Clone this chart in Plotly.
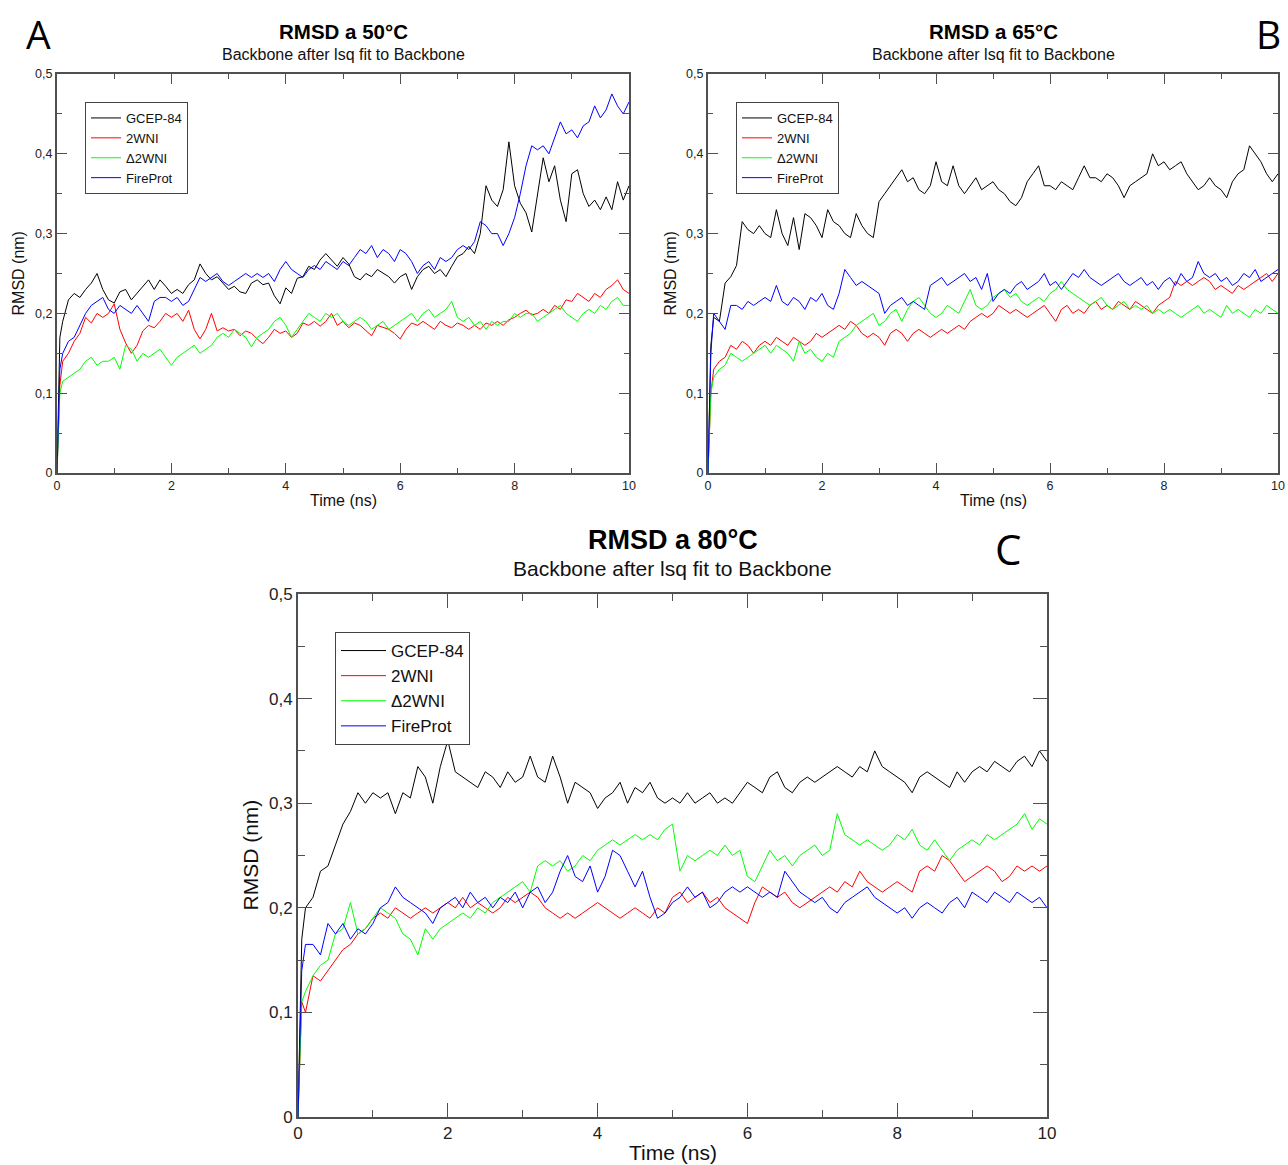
import plotly.graph_objects as go

# time axis (ns): t=0, 0.05 then every 0.1 ns up to 10
time_ns = [0.0, 0.05] + [round(0.1 * i, 1) for i in range(1, 101)]

names = ["GCEP-84", "2WNI", "\u03942WNI", "FireProt"]
colors = ["#000000", "#ff0000", "#00ff00", "#0000ff"]

y_tick_vals = [0, 0.1, 0.2, 0.3, 0.4, 0.5]
y_tick_text = ["0", "0,1", "0,2", "0,3", "0,4", "0,5"]
x_tick_vals = [0, 2, 4, 6, 8, 10]
x_tick_text = ["0", "2", "4", "6", "8", "10"]

# ---- panel A : 50 C ----
a_gcep = [0.0, 0.17,
    0.19, 0.217, 0.225, 0.22, 0.23, 0.238, 0.25, 0.23, 0.217, 0.213,
    0.227, 0.23, 0.217, 0.225, 0.234, 0.242, 0.23, 0.242, 0.234, 0.225,
    0.23, 0.225, 0.236, 0.242, 0.262, 0.25, 0.242, 0.246, 0.238, 0.23,
    0.234, 0.227, 0.225, 0.238, 0.242, 0.236, 0.238, 0.222, 0.212, 0.232,
    0.225, 0.244, 0.246, 0.259, 0.255, 0.267, 0.275, 0.267, 0.259, 0.27,
    0.262, 0.246, 0.242, 0.25, 0.246, 0.255, 0.25, 0.246, 0.238, 0.246,
    0.25, 0.23, 0.246, 0.255, 0.259, 0.25, 0.255, 0.246, 0.259, 0.271,
    0.275, 0.284, 0.275, 0.3, 0.36, 0.342, 0.334, 0.355, 0.415, 0.36,
    0.338, 0.326, 0.302, 0.35, 0.395, 0.365, 0.385, 0.342, 0.315, 0.375,
    0.38, 0.35, 0.334, 0.342, 0.33, 0.346, 0.33, 0.365, 0.342, 0.36]
a_2wni = [0.0, 0.11,
    0.14, 0.15, 0.165, 0.175, 0.195, 0.188, 0.2, 0.195, 0.2, 0.212,
    0.18, 0.163, 0.15, 0.16, 0.178, 0.185, 0.182, 0.19, 0.2, 0.195,
    0.2, 0.19, 0.204, 0.18, 0.168, 0.18, 0.2, 0.178, 0.182, 0.178,
    0.18, 0.172, 0.178, 0.175, 0.168, 0.162, 0.17, 0.18, 0.175, 0.178,
    0.17, 0.175, 0.188, 0.185, 0.19, 0.184, 0.19, 0.2, 0.185, 0.19,
    0.182, 0.188, 0.185, 0.178, 0.172, 0.185, 0.182, 0.18, 0.175, 0.168,
    0.18, 0.188, 0.185, 0.19, 0.185, 0.18, 0.19, 0.185, 0.182, 0.188,
    0.185, 0.18, 0.185, 0.18, 0.188, 0.185, 0.19, 0.185, 0.192, 0.195,
    0.2, 0.204, 0.198, 0.2, 0.205, 0.2, 0.21, 0.205, 0.217, 0.215,
    0.225, 0.22, 0.215, 0.225, 0.22, 0.23, 0.235, 0.242, 0.23, 0.225]
a_d2wni = [0.0, 0.1,
    0.115, 0.12, 0.125, 0.13, 0.14, 0.145, 0.135, 0.14, 0.14, 0.145,
    0.13, 0.16, 0.155, 0.14, 0.15, 0.145, 0.15, 0.155, 0.145, 0.135,
    0.145, 0.15, 0.155, 0.16, 0.15, 0.155, 0.16, 0.17, 0.175, 0.17,
    0.18, 0.175, 0.17, 0.158, 0.17, 0.175, 0.18, 0.19, 0.195, 0.185,
    0.17, 0.18, 0.19, 0.2, 0.195, 0.19, 0.2, 0.195, 0.2, 0.19,
    0.185, 0.19, 0.195, 0.19, 0.18, 0.185, 0.19, 0.18, 0.185, 0.19,
    0.195, 0.2, 0.19, 0.2, 0.205, 0.195, 0.2, 0.205, 0.215, 0.195,
    0.19, 0.195, 0.185, 0.19, 0.18, 0.19, 0.185, 0.19, 0.19, 0.2,
    0.195, 0.2, 0.2, 0.19, 0.195, 0.2, 0.205, 0.21, 0.2, 0.195,
    0.19, 0.2, 0.205, 0.2, 0.21, 0.205, 0.215, 0.22, 0.21, 0.21]
a_fireprot = [0.0, 0.13,
    0.15, 0.165, 0.17, 0.185, 0.2, 0.21, 0.215, 0.22, 0.205, 0.2,
    0.21, 0.205, 0.2, 0.21, 0.2, 0.19, 0.215, 0.22, 0.22, 0.215,
    0.22, 0.21, 0.215, 0.23, 0.245, 0.24, 0.245, 0.25, 0.24, 0.235,
    0.24, 0.245, 0.25, 0.245, 0.25, 0.245, 0.25, 0.24, 0.255, 0.265,
    0.255, 0.25, 0.245, 0.255, 0.26, 0.255, 0.265, 0.26, 0.255, 0.265,
    0.26, 0.27, 0.28, 0.275, 0.285, 0.27, 0.28, 0.275, 0.265, 0.28,
    0.275, 0.265, 0.25, 0.26, 0.265, 0.255, 0.27, 0.265, 0.27, 0.28,
    0.285, 0.28, 0.29, 0.315, 0.31, 0.3, 0.3, 0.285, 0.3, 0.32,
    0.35, 0.385, 0.41, 0.405, 0.41, 0.4, 0.42, 0.44, 0.425, 0.43,
    0.42, 0.435, 0.44, 0.46, 0.445, 0.455, 0.475, 0.46, 0.45, 0.465]

# ---- panel B : 65 C ----
b_gcep = [0.0, 0.16,
    0.195, 0.19, 0.238, 0.246, 0.26, 0.315, 0.305, 0.3, 0.31, 0.3,
    0.295, 0.33, 0.3, 0.285, 0.32, 0.28, 0.325, 0.32, 0.31, 0.295,
    0.33, 0.315, 0.31, 0.3, 0.295, 0.325, 0.31, 0.3, 0.295, 0.34,
    0.35, 0.36, 0.37, 0.38, 0.365, 0.37, 0.355, 0.35, 0.36, 0.39,
    0.365, 0.36, 0.385, 0.36, 0.35, 0.36, 0.37, 0.355, 0.36, 0.365,
    0.355, 0.35, 0.34, 0.335, 0.345, 0.365, 0.375, 0.385, 0.36, 0.36,
    0.355, 0.365, 0.36, 0.355, 0.37, 0.385, 0.37, 0.37, 0.365, 0.375,
    0.37, 0.36, 0.345, 0.36, 0.365, 0.37, 0.375, 0.4, 0.385, 0.39,
    0.38, 0.385, 0.39, 0.375, 0.365, 0.355, 0.36, 0.37, 0.36, 0.355,
    0.345, 0.365, 0.375, 0.38, 0.41, 0.4, 0.39, 0.375, 0.365, 0.375]
b_2wni = [0.0, 0.1,
    0.13, 0.14, 0.145, 0.16, 0.155, 0.165, 0.16, 0.15, 0.16, 0.165,
    0.16, 0.17, 0.165, 0.16, 0.17, 0.165, 0.16, 0.165, 0.175, 0.17,
    0.175, 0.18, 0.185, 0.18, 0.19, 0.185, 0.175, 0.17, 0.175, 0.17,
    0.16, 0.175, 0.18, 0.175, 0.165, 0.175, 0.18, 0.175, 0.17, 0.175,
    0.18, 0.175, 0.18, 0.185, 0.18, 0.19, 0.195, 0.2, 0.195, 0.2,
    0.21, 0.205, 0.2, 0.205, 0.2, 0.195, 0.2, 0.205, 0.21, 0.2,
    0.19, 0.205, 0.21, 0.2, 0.205, 0.2, 0.21, 0.215, 0.205, 0.21,
    0.205, 0.215, 0.21, 0.205, 0.215, 0.21, 0.205, 0.2, 0.21, 0.215,
    0.22, 0.24, 0.235, 0.24, 0.235, 0.24, 0.245, 0.24, 0.23, 0.235,
    0.23, 0.225, 0.235, 0.23, 0.235, 0.24, 0.245, 0.25, 0.24, 0.25]
b_d2wni = [0.0, 0.1,
    0.12, 0.13, 0.135, 0.15, 0.145, 0.14, 0.145, 0.15, 0.155, 0.16,
    0.15, 0.16, 0.155, 0.15, 0.14, 0.165, 0.15, 0.155, 0.145, 0.14,
    0.15, 0.145, 0.165, 0.17, 0.175, 0.185, 0.19, 0.195, 0.2, 0.185,
    0.19, 0.2, 0.205, 0.19, 0.205, 0.215, 0.22, 0.21, 0.2, 0.195,
    0.2, 0.21, 0.205, 0.2, 0.215, 0.23, 0.21, 0.205, 0.21, 0.22,
    0.225, 0.23, 0.22, 0.225, 0.215, 0.21, 0.215, 0.22, 0.215, 0.225,
    0.23, 0.24, 0.23, 0.225, 0.22, 0.215, 0.21, 0.215, 0.22, 0.21,
    0.205, 0.21, 0.215, 0.205, 0.21, 0.205, 0.21, 0.2, 0.205, 0.2,
    0.205, 0.2, 0.195, 0.2, 0.205, 0.21, 0.2, 0.205, 0.2, 0.195,
    0.21, 0.2, 0.205, 0.2, 0.195, 0.205, 0.2, 0.21, 0.205, 0.2]
b_fireprot = [0.0, 0.15,
    0.2, 0.19, 0.18, 0.21, 0.21, 0.205, 0.215, 0.21, 0.215, 0.22,
    0.215, 0.235, 0.215, 0.21, 0.22, 0.215, 0.205, 0.22, 0.215, 0.225,
    0.21, 0.205, 0.225, 0.255, 0.245, 0.235, 0.24, 0.235, 0.23, 0.225,
    0.2, 0.21, 0.215, 0.22, 0.21, 0.215, 0.21, 0.205, 0.235, 0.24,
    0.245, 0.235, 0.24, 0.245, 0.25, 0.24, 0.245, 0.23, 0.25, 0.215,
    0.225, 0.23, 0.225, 0.235, 0.24, 0.23, 0.235, 0.24, 0.25, 0.235,
    0.24, 0.23, 0.24, 0.25, 0.245, 0.255, 0.245, 0.24, 0.235, 0.24,
    0.245, 0.25, 0.24, 0.235, 0.24, 0.245, 0.235, 0.24, 0.23, 0.24,
    0.245, 0.235, 0.25, 0.24, 0.245, 0.265, 0.25, 0.245, 0.25, 0.24,
    0.245, 0.235, 0.24, 0.25, 0.245, 0.255, 0.24, 0.245, 0.25, 0.255]

# ---- panel C : 80 C ----
c_gcep = [0.0, 0.17,
    0.2, 0.21, 0.235, 0.24, 0.26, 0.28, 0.292, 0.31, 0.3, 0.31,
    0.305, 0.31, 0.29, 0.31, 0.305, 0.335, 0.325, 0.3, 0.335, 0.36,
    0.33, 0.325, 0.32, 0.315, 0.33, 0.325, 0.315, 0.33, 0.32, 0.325,
    0.345, 0.325, 0.32, 0.345, 0.325, 0.3, 0.32, 0.315, 0.31, 0.295,
    0.305, 0.31, 0.32, 0.3, 0.315, 0.31, 0.32, 0.305, 0.3, 0.305,
    0.3, 0.31, 0.3, 0.305, 0.31, 0.3, 0.305, 0.3, 0.31, 0.32,
    0.315, 0.31, 0.325, 0.33, 0.315, 0.31, 0.32, 0.325, 0.32, 0.325,
    0.33, 0.335, 0.33, 0.325, 0.335, 0.33, 0.35, 0.335, 0.33, 0.325,
    0.32, 0.31, 0.325, 0.33, 0.325, 0.32, 0.315, 0.33, 0.32, 0.33,
    0.335, 0.33, 0.34, 0.335, 0.33, 0.34, 0.345, 0.335, 0.35, 0.34]
c_2wni = [0.0, 0.11,
    0.1, 0.135, 0.13, 0.14, 0.15, 0.16, 0.165, 0.175, 0.18, 0.19,
    0.195, 0.19, 0.2, 0.195, 0.19, 0.195, 0.2, 0.195, 0.2, 0.205,
    0.2, 0.21, 0.2, 0.205, 0.2, 0.195, 0.2, 0.21, 0.205, 0.21,
    0.215, 0.21, 0.2, 0.195, 0.19, 0.195, 0.19, 0.195, 0.2, 0.205,
    0.2, 0.195, 0.19, 0.195, 0.2, 0.195, 0.19, 0.2, 0.195, 0.21,
    0.215, 0.205, 0.21, 0.215, 0.205, 0.21, 0.2, 0.195, 0.19, 0.185,
    0.205, 0.22, 0.215, 0.21, 0.215, 0.205, 0.2, 0.205, 0.21, 0.215,
    0.22, 0.215, 0.225, 0.22, 0.235, 0.225, 0.22, 0.215, 0.22, 0.225,
    0.22, 0.215, 0.235, 0.24, 0.235, 0.25, 0.245, 0.235, 0.225, 0.23,
    0.235, 0.24, 0.235, 0.225, 0.23, 0.24, 0.235, 0.24, 0.235, 0.24]
c_d2wni = [0.0, 0.11,
    0.12, 0.135, 0.145, 0.15, 0.175, 0.18, 0.205, 0.175, 0.18, 0.19,
    0.2, 0.195, 0.19, 0.175, 0.17, 0.155, 0.18, 0.17, 0.18, 0.185,
    0.19, 0.195, 0.19, 0.2, 0.195, 0.205, 0.21, 0.215, 0.22, 0.225,
    0.215, 0.24, 0.245, 0.24, 0.245, 0.235, 0.24, 0.25, 0.245, 0.255,
    0.26, 0.265, 0.26, 0.265, 0.27, 0.265, 0.27, 0.265, 0.275, 0.28,
    0.235, 0.25, 0.245, 0.25, 0.255, 0.25, 0.26, 0.25, 0.255, 0.23,
    0.225, 0.24, 0.255, 0.245, 0.25, 0.24, 0.25, 0.255, 0.26, 0.25,
    0.255, 0.29, 0.27, 0.265, 0.26, 0.265, 0.26, 0.255, 0.26, 0.27,
    0.265, 0.275, 0.26, 0.255, 0.265, 0.255, 0.245, 0.255, 0.26, 0.265,
    0.26, 0.27, 0.265, 0.27, 0.275, 0.28, 0.29, 0.275, 0.285, 0.28]
c_fireprot = [0.0, 0.14,
    0.165, 0.165, 0.155, 0.185, 0.175, 0.185, 0.17, 0.18, 0.175, 0.185,
    0.2, 0.205, 0.22, 0.21, 0.205, 0.2, 0.195, 0.185, 0.2, 0.205,
    0.21, 0.2, 0.215, 0.205, 0.21, 0.2, 0.21, 0.205, 0.215, 0.2,
    0.215, 0.22, 0.205, 0.215, 0.235, 0.25, 0.23, 0.225, 0.24, 0.215,
    0.23, 0.255, 0.25, 0.235, 0.22, 0.235, 0.21, 0.19, 0.195, 0.205,
    0.21, 0.22, 0.21, 0.215, 0.2, 0.205, 0.215, 0.22, 0.215, 0.22,
    0.215, 0.21, 0.215, 0.21, 0.235, 0.225, 0.215, 0.21, 0.205, 0.21,
    0.2, 0.195, 0.205, 0.21, 0.215, 0.22, 0.21, 0.205, 0.2, 0.195,
    0.2, 0.19, 0.2, 0.205, 0.2, 0.195, 0.205, 0.21, 0.2, 0.215,
    0.21, 0.205, 0.215, 0.21, 0.205, 0.215, 0.21, 0.205, 0.21, 0.2]

W, H = 1288, 1165
FONT = "Liberation Sans, Arial, sans-serif"
AX = "#505050"


def fx(p):
    return p / W


def fy(p):
    return 1 - p / H


panels = [
    {"x": "x", "y": "y", "legend": "legend", "series": [a_gcep, a_2wni, a_d2wni, a_fireprot],
     "box": (57, 629, 74, 473), "tick": 12.5, "lab": 16, "title": "RMSD a 50°C", "tsize": 20.5,
     "ssize": 16, "ty": 32, "sy": 54, "xlab_y": 500, "ylab_x": 18, "tl": 10, "ml": 5},
    {"x": "x2", "y": "y2", "legend": "legend2", "series": [b_gcep, b_2wni, b_d2wni, b_fireprot],
     "box": (708, 1278, 74, 473), "tick": 12.5, "lab": 16, "title": "RMSD a 65°C", "tsize": 20.5,
     "ssize": 16, "ty": 32, "sy": 54, "xlab_y": 500, "ylab_x": 670, "tl": 10, "ml": 5},
    {"x": "x3", "y": "y3", "legend": "legend3", "series": [c_gcep, c_2wni, c_d2wni, c_fireprot],
     "box": (298, 1047, 594, 1117), "tick": 17, "lab": 21, "title": "RMSD a 80°C", "tsize": 27,
     "ssize": 21, "ty": 540, "sy": 568, "xlab_y": 1152, "ylab_x": 250, "tl": 14, "ml": 7},
]

fig = go.Figure()
annotations = []
layout = {}

for i, p in enumerate(panels):
    for name, color, vals in zip(names, colors, p["series"]):
        fig.add_trace(go.Scatter(
            x=time_ns, y=vals, mode="lines", name=name,
            line=dict(color=color, width=1), xaxis=p["x"], yaxis=p["y"],
            legend=p["legend"]))

    x0, x1, y0, y1 = p["box"]
    suffix = "" if i == 0 else str(i + 1)
    axis_common = dict(
        showline=True, linecolor=AX, linewidth=2, mirror="ticks",
        ticks="inside", ticklen=p["tl"], tickwidth=1.3, tickcolor=AX,
        showgrid=False, zeroline=False, automargin=False,
        tickfont=dict(family=FONT, size=p["tick"], color="#222"))
    minor_common = dict(tickmode="linear", tick0=0, ticks="inside", ticklen=p["ml"],
                        tickcolor=AX, tickwidth=1.3)
    layout["xaxis" + suffix] = dict(
        axis_common, domain=[fx(x0), fx(x1)], range=[0, 10], anchor="y" + suffix,
        tickmode="array", tickvals=x_tick_vals, ticktext=x_tick_text,
        minor=dict(minor_common, dtick=1))
    layout["yaxis" + suffix] = dict(
        axis_common, domain=[fy(y1), fy(y0)], range=[0, 0.5], anchor="x" + suffix,
        tickmode="array", tickvals=y_tick_vals, ticktext=y_tick_text,
        minor=dict(minor_common, dtick=0.05))

    cx = (x0 + x1) / 2
    annotations += [
        dict(text="<b>" + p["title"] + "</b>", x=fx(cx), y=fy(p["ty"]),
             font=dict(family=FONT, size=p["tsize"], color="#000")),
        dict(text="Backbone after lsq fit to Backbone", x=fx(cx), y=fy(p["sy"]),
             font=dict(family=FONT, size=p["ssize"], color="#111")),
        dict(text="Time (ns)", x=fx(cx), y=fy(p["xlab_y"]),
             font=dict(family=FONT, size=p["lab"], color="#111")),
        dict(text="RMSD (nm)", x=fx(p["ylab_x"]), y=fy((y0 + y1) / 2), textangle=-90,
             font=dict(family=FONT, size=p["lab"], color="#111")),
    ]

for letter, lx, ly, size in [("A", 38, 33, 39), ("B", 1268, 33, 39), ("C", 1008, 548, 42)]:
    annotations.append(dict(text=letter, x=fx(lx), y=fy(ly),
                            font=dict(family="Open Sans, DejaVu Sans, sans-serif", size=size, color="#000")))

for a in annotations:
    a.update(xref="paper", yref="paper", showarrow=False, xanchor="center", yanchor="middle")

legend_common = dict(bgcolor="white", bordercolor="#444", borderwidth=1,
                     xanchor="left", yanchor="top", tracegroupgap=0)
layout["legend"] = dict(legend_common, x=fx(85), y=fy(102),
                        font=dict(family=FONT, size=13, color="#111"))
layout["legend2"] = dict(legend_common, x=fx(736), y=fy(102),
                         font=dict(family=FONT, size=13, color="#111"))
layout["legend3"] = dict(legend_common, x=fx(335), y=fy(632), itemwidth=45,
                         font=dict(family=FONT, size=17, color="#111"))

fig.update_layout(
    width=W, height=H, autosize=False,
    margin=dict(l=0, r=0, t=0, b=0),
    paper_bgcolor="white", plot_bgcolor="white",
    annotations=annotations, showlegend=True,
    **layout)

# drop the browser's default 8px body margin so the figure fills the window
fig.write_html("out.html", config={"displayModeBar": False},
               post_script="document.body.style.margin = '0';")
